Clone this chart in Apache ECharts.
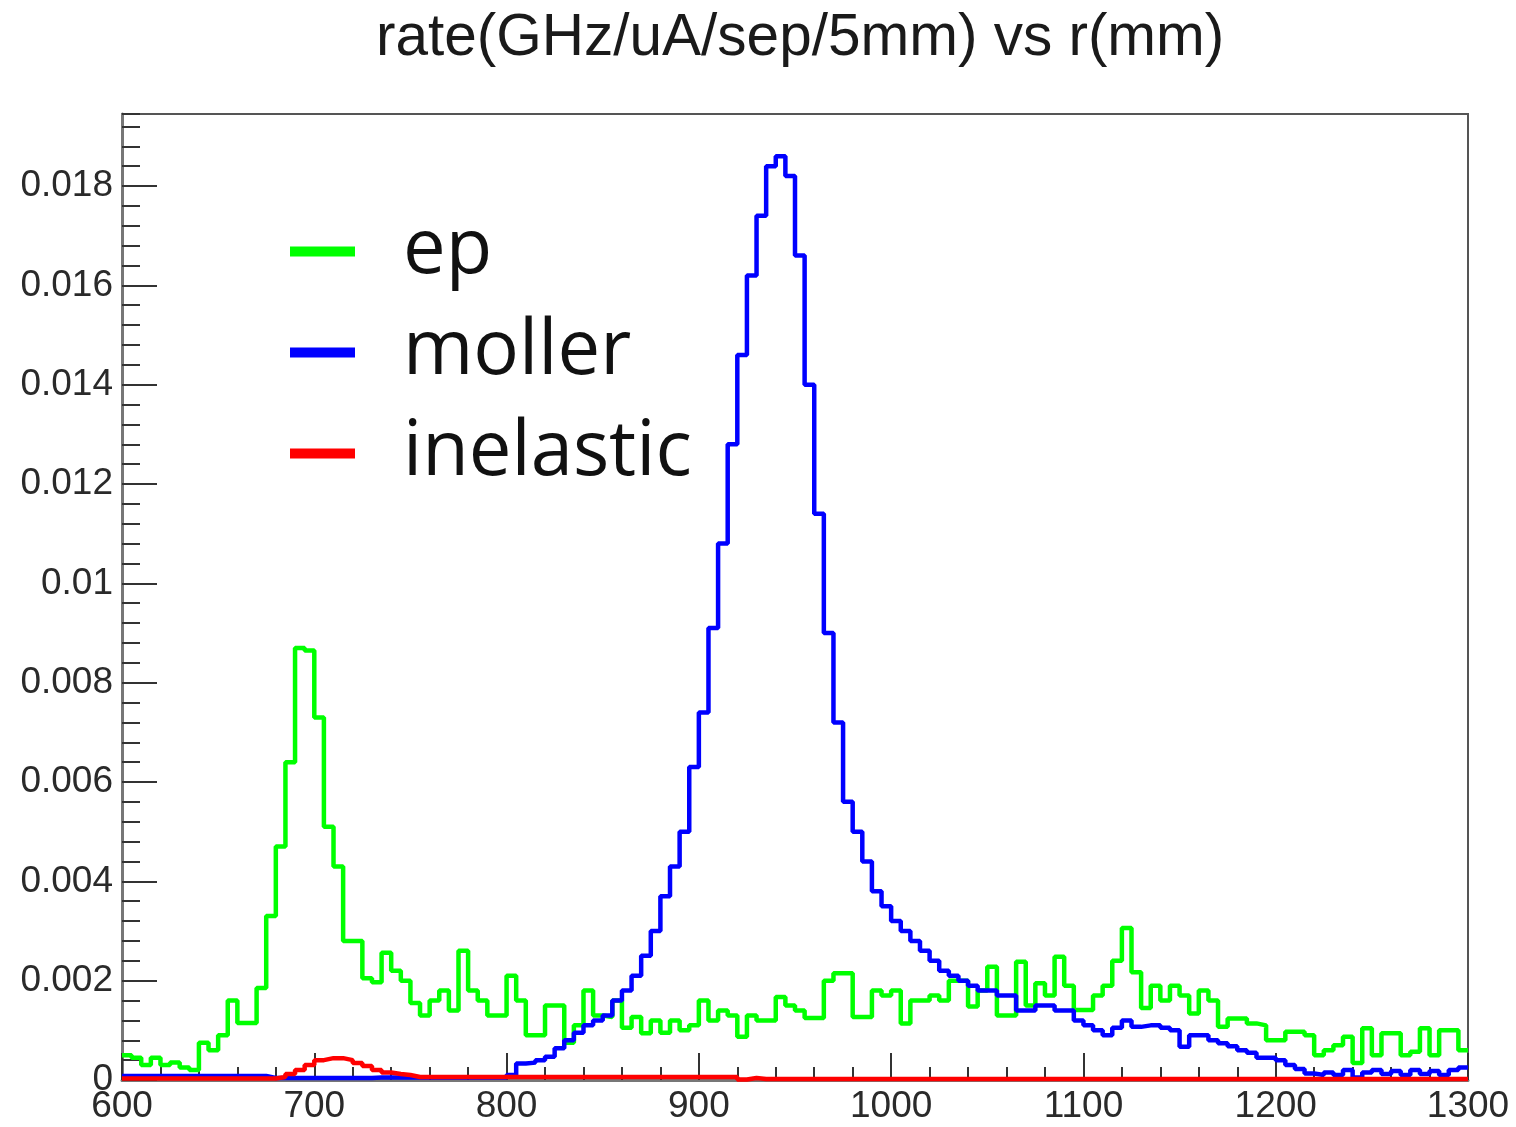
<!DOCTYPE html>
<html><head><meta charset="utf-8">
<script src="https://cdn.jsdelivr.net/npm/echarts@6/dist/echarts.min.js"></script>
<style>html,body{margin:0;padding:0;background:#fff}#chart{width:1516px;height:1127px}</style>
</head><body><div id="chart"></div>
<script>
const chartTitle = 'rate(GHz/uA/sep/5mm) vs r(mm)';
const binStart = 600;
const binWidth = 5;
const xTickLabels = ['600','700','800','900','1000','1100','1200','1300'];
const yTickLabels = ['0','0.002','0.004','0.006','0.008','0.01','0.012','0.014','0.016','0.018'];
const seriesNames = ['ep','moller','inelastic'];

const ep = [
 0.0005,0.00045,0.0003,0.00045,0.0003,0.00035,0.00025,0.0002,0.00075,0.0006,
 0.0009,0.0016,0.00115,0.00115,0.00185,0.0033,0.0047,0.0064,0.0087,0.00865,
 0.0073,0.0051,0.0043,0.0028,0.0028,0.00205,0.00197,0.00256,0.0022,0.002,
 0.00155,0.0013,0.0016,0.0018,0.0014,0.0026,0.0018,0.0016,0.0013,0.0013,
 0.0021,0.0016,0.0009,0.0009,0.0015,0.0015,0.00075,0.0011,0.0018,0.0013,
 0.00127,0.0016,0.00105,0.00127,0.00094,0.0012,0.00095,0.0012,0.001,0.0011,
 0.0016,0.0012,0.0014,0.0013,0.00087,0.0013,0.0012,0.0012,0.00167,0.0015,
 0.0014,0.00125,0.00125,0.002,0.00215,0.00215,0.00127,0.00127,0.0018,0.0017,
 0.0018,0.00114,0.0016,0.0016,0.0017,0.0016,0.002,0.002,0.00148,0.0018,
 0.00228,0.0013,0.0013,0.00238,0.0015,0.00195,0.0017,0.00248,0.0019,0.00141,
 0.00141,0.0017,0.0019,0.0024,0.00306,0.00217,0.00145,0.0019,0.0016,0.0019,
 0.0017,0.00134,0.0018,0.0016,0.00107,0.00124,0.00124,0.00114,0.0011,0.0008,
 0.0008,0.00097,0.00097,0.0009,0.0005,0.0006,0.0007,0.00087,0.00034,0.00104,
 0.0005,0.00094,0.00094,0.0005,0.00057,0.00104,0.0005,0.001,0.001,0.0006
];
const moller = [
 0.00008,0.00008,0.00008,0.00008,0.00008,0.00008,0.00008,0.00008,0.00008,0.00008,
 0.00008,0.00008,0.00008,0.00008,0.00008,0.00004,0.00004,0.00004,0.00004,0.00004,
 0.00004,0.00004,0.00004,0.00004,0.00004,0.00004,0.00005,0.00005,0.00005,0.00005,
 0.00005,0.00005,0.00005,0.00005,0.00005,0.00005,0.00005,0.00005,0.00005,0.00005,
 0.0001,0.00033,0.00035,0.0004,0.00047,0.00064,0.0008,0.00095,0.0011,0.0012,
 0.0013,0.0016,0.0018,0.0021,0.0025,0.003,0.0037,0.0043,0.005,0.0063,
 0.0074,0.0091,0.0108,0.0128,0.0146,0.0162,0.0174,0.0184,0.0186,0.0182,
 0.0166,0.014,0.0114,0.009,0.0072,0.0056,0.005,0.0044,0.0038,0.0035,
 0.0032,0.003,0.0028,0.0026,0.0024,0.0022,0.0021,0.002,0.0019,0.0018,
 0.0018,0.0017,0.0017,0.0014,0.0014,0.0015,0.0015,0.0014,0.0014,0.0012,
 0.0011,0.001,0.0009,0.00105,0.0012,0.00107,0.0011,0.0011,0.00105,0.001,
 0.00067,0.0009,0.0009,0.0008,0.00074,0.00068,0.0006,0.00055,0.00045,0.00045,
 0.0004,0.0003,0.00022,0.00013,0.0001,0.00015,0.0001,0.0002,0.00005,0.00015,
 0.0002,0.00012,0.00018,0.0001,0.0002,0.00012,0.00018,0.0001,0.0002,0.00025
];
const inelastic = [
 0.00003,0.00003,0.00003,0.00003,0.00003,0.00003,0.00003,0.00003,0.00003,0.00003,
 0.00003,0.00003,0.00003,0.00003,0.00003,0.00003,0.00006,0.00012,0.0002,0.0003,
 0.0004,0.00044,0.00044,0.0004,0.00034,0.00028,0.0002,0.00015,0.00012,0.0001,
 0.00006,0.00006,0.00006,0.00006,0.00006,0.00006,0.00006,0.00006,0.00006,0.00006,
 0.00006,0.00006,0.00006,0.00006,0.00006,0.00006,0.00006,0.00006,0.00006,0.00006,
 0.00006,0.00006,0.00006,0.00006,0.00006,0.00006,0.00006,0.00006,0.00006,0.00006,
 0.00006,0.00006,0.00006,0.00006,0.00001,0.00004,0.00002,0.00002,0.00002,0.00002,
 0.00002,0.00002,0.00002,0.00002,0.00002,0.00002,0.00002,0.00002,0.00002,0.00002,
 0.00002,0.00002,0.00002,0.00002,0.00002,0.00002,0.00002,0.00002,0.00002,0.00002,
 0.00002,0.00002,0.00002,0.00002,0.00002,0.00002,0.00002,0.00002,0.00002,0.00002,
 0.00002,0.00002,0.00002,0.00002,0.00002,0.00002,0.00002,0.00002,0.00002,0.00002,
 0.00002,0.00002,0.00002,0.00002,0.00002,0.00002,0.00002,0.00002,0.00002,0.00002,
 0.00002,0.00002,0.00002,0.00002,0.00002,0.00002,0.00002,0.00002,0.00002,0.00002,
 0.00002,0.00002,0.00002,0.00002,0.00002,0.00002,0.00002,0.00002,0.00002,0.00002
];
const seriesColors = ['#00ff00','#0000ff','#ff0000'];

function histData(vals) {
  const d = vals.map((v, i) => [binStart + i * binWidth, v]);
  d.push([binStart + vals.length * binWidth, vals[vals.length - 1]]);
  return d;
}
const Y_MAX = 0.01945;
const chart = echarts.init(document.getElementById('chart'), null, {renderer: 'canvas'});
const allSeries = [ep, moller, inelastic].map((vals, k) => ({
  name: seriesNames[k], type: 'line', step: 'end', data: histData(vals),
  showSymbol: false, symbol: 'none', xAxisIndex: 0, yAxisIndex: 0,
  itemStyle: {color: seriesColors[k]},
  lineStyle: {color: seriesColors[k], width: 4.5},
  emphasis: {disabled: true}, z: 2 + k
}));

chart.setOption({
  animation: false,
  backgroundColor: '#ffffff',
  title: {
    text: chartTitle, left: 371, top: 4,
    textStyle: {fontFamily: 'Liberation Sans', fontSize: 58.5, fontWeight: 'normal', color: '#1a1a1a'}
  },
  legend: {
    orient: 'vertical', left: 290, top: 211, padding: 0,
    itemWidth: 65, itemHeight: 10, itemGap: 20, icon: 'rect',
    data: seriesNames,
    textStyle: {fontFamily: 'Open Sans', fontSize: 76, color: '#111', lineHeight: 81, padding: [0, 0, 0, 43]}
  },
  grid: {left: 122, right: 48, top: 114, bottom: 47, show: true, borderColor: '#555', borderWidth: 2, containLabel: false},
  xAxis: {
    type: 'value', min: 600, max: 1300, interval: 100,
    axisLine: {show: true, lineStyle: {color: '#777', width: 3}},
    axisTick: {show: true, inside: true, length: 27, lineStyle: {color: '#333', width: 2}},
    minorTick: {show: true, splitNumber: 5, length: 13, lineStyle: {color: '#333', width: 2}},
    splitLine: {show: false},
    axisLabel: {
      margin: 8, fontFamily: 'Liberation Sans', fontSize: 37, color: '#2a2a2a',
      formatter: v => xTickLabels[Math.round((v - 600) / 100)] || ''
    }
  },
  yAxis: [{
    type: 'value', min: 0, max: Y_MAX, interval: 0.002,
    axisLine: {show: true, lineStyle: {color: '#777', width: 3}},
    axisTick: {show: true, inside: true, length: 35, lineStyle: {color: '#333', width: 2}},
    splitLine: {show: false},
    axisLabel: {
      margin: 9, fontFamily: 'Liberation Sans', fontSize: 37, color: '#2a2a2a', showMaxLabel: false,
      formatter: v => {
        const k = Math.round(v / 0.002);
        if (Math.abs(v - k * 0.002) > 1e-9) return '';
        return yTickLabels[k] || '';
      }
    }
  }, {
    type: 'value', min: 0, max: Y_MAX, interval: 0.0004, position: 'left', offset: 0,
    axisLine: {show: false}, axisLabel: {show: false}, splitLine: {show: false},
    axisTick: {show: true, inside: true, length: 18, lineStyle: {color: '#333', width: 2}}
  }],
  series: allSeries
});
</script>
</body></html>
